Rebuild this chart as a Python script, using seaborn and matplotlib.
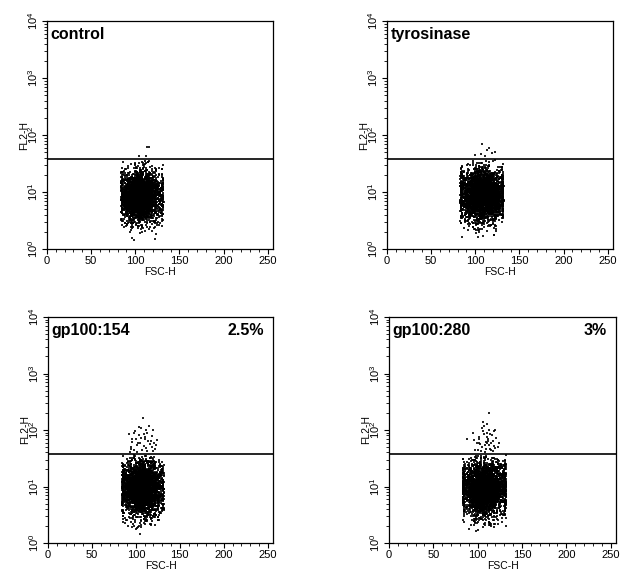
import numpy as np
import pandas as pd
import matplotlib
matplotlib.use("Agg")
import matplotlib.pyplot as plt
import seaborn as sns
from matplotlib.ticker import LogLocator, MultipleLocator, LogFormatterMathtext

# ---- data ----
panel_names = ["control", "tyrosinase", "gp100:154", "gp100:280"]
panel_pct = ["", "", "2.5%", "3%"]
gate_level = [38, 38, 37, 37]          # FL2-H gate (horizontal line)

# core population summary (read from the dense blob; dots themselves are unreadable)
core_n = [3200, 3200, 3200, 3300]
core_x_mean = [106, 108, 107, 108]
core_x_sd = [12, 13, 12, 13]
core_x_lo = [85, 84, 85, 84]
core_x_hi = [131, 131, 131, 131]
core_log_mean = [0.93, 0.95, 0.97, 0.97]
core_log_sd = [0.22, 0.23, 0.24, 0.23]

# events above the gate, read point by point (FSC-H, FL2-H)
hi_x_control = [113, 115, 104, 112]
hi_y_control = [62, 61, 42, 43]
hi_x_tyro = [108, 113, 119, 107, 111, 122, 100, 115]
hi_y_tyro = [70, 55, 48, 46, 42, 50, 44, 58]
hi_x_154 = [92, 96, 99, 102, 106, 110, 113, 117, 120, 123, 94, 98, 104, 108, 112, 115, 119,
            100, 105, 109, 114, 118, 122, 96, 101, 107, 111, 116, 93, 103, 110, 121, 98, 113,
            106, 118, 101, 109, 95, 124]
hi_y_154 = [85, 70, 95, 60, 110, 75, 90, 65, 100, 55, 50, 45, 80, 160, 48, 120, 42,
            70, 58, 52, 64, 78, 46, 62, 40, 44, 98, 56, 41, 115, 68, 60, 88, 43,
            72, 50, 54, 84, 47, 66]
hi_x_280 = [95, 99, 102, 105, 108, 111, 114, 117, 120, 123, 97, 101, 106, 110, 113, 116, 119,
            104, 107, 112, 115, 118, 100, 109, 111, 114, 103, 121, 96, 108, 113, 117, 110, 105,
            112, 118, 101, 107, 115, 109, 113, 88, 124, 106]
hi_y_280 = [90, 60, 75, 110, 55, 130, 85, 65, 100, 50, 45, 70, 95, 60, 200, 80, 48,
            42, 120, 70, 58, 52, 44, 62, 88, 46, 56, 72, 66, 40, 100, 43, 75, 50,
            64, 95, 58, 84, 45, 47, 54, 68, 60, 140]
hi_x = [hi_x_control, hi_x_tyro, hi_x_154, hi_x_280]
hi_y = [hi_y_control, hi_y_tyro, hi_y_154, hi_y_280]

x_ticks = [0, 50, 100, 150, 200, 250]

# ---- build per-panel event tables ----
rng = np.random.default_rng(7)
frames = []
for i, name in enumerate(panel_names):
    x = rng.normal(core_x_mean[i], core_x_sd[i], core_n[i])
    x = np.clip(x, core_x_lo[i], core_x_hi[i]) + rng.uniform(-1, 1, core_n[i])
    ly = rng.normal(core_log_mean[i], core_log_sd[i], core_n[i])
    y = 10 ** ly
    keep = y < gate_level[i] * 0.97
    df = pd.DataFrame({"FSC-H": np.concatenate([x[keep], hi_x[i]]),
                       "FL2-H": np.concatenate([y[keep], hi_y[i]]),
                       "panel": name})
    frames.append(df)

# ---- figure ----
sns.set_theme(style="white")
plt.rcParams["font.family"] = ["Liberation Sans", "DejaVu Sans"]
plt.rcParams["mathtext.fontset"] = "custom"
plt.rcParams["mathtext.rm"] = "Liberation Sans"
plt.rcParams["mathtext.it"] = "Liberation Sans"
for k in ["text.color", "axes.labelcolor", "xtick.color", "ytick.color", "axes.edgecolor"]:
    plt.rcParams[k] = "black"

fig = plt.figure(figsize=(6.27, 5.78), dpi=100)
W, H = 627, 578
boxes = [(47, 21, 273, 249), (387, 21, 613, 249), (48, 317, 273, 543), (389, 317, 616, 543)]

for i, (l, t, r, b) in enumerate(boxes):
    ax = fig.add_axes([l / W, 1 - b / H, (r - l) / W, (b - t) / H])
    sns.scatterplot(data=frames[i], x="FSC-H", y="FL2-H", ax=ax, color="black",
                    s=2.2, marker="s", linewidth=0, alpha=0.85, legend=False)
    ax.axhline(gate_level[i], color="black", lw=1.2)
    ax.set_yscale("log")
    ax.set_ylim(1, 1e4)
    ax.set_xlim(0, 256)
    ax.set_xticks(x_ticks)
    ax.xaxis.set_minor_locator(MultipleLocator(10))
    ax.yaxis.set_major_locator(LogLocator(base=10, numticks=10))
    ax.yaxis.set_minor_locator(LogLocator(base=10, subs=np.arange(2, 10), numticks=50))
    ax.yaxis.set_major_formatter(LogFormatterMathtext())
    ax.tick_params(axis="both", which="major", direction="out", length=3.5, width=0.8,
                   labelsize=8, pad=1.5, color="black", labelcolor="black",
                   left=True, bottom=True)
    ax.tick_params(axis="both", which="minor", direction="out", length=2, width=0.6,
                   color="black", left=True, bottom=True)
    for lab in ax.get_yticklabels():
        lab.set_rotation(90)
        lab.set_va("center")
    ax.set_xlabel("FSC-H", fontsize=7.5, labelpad=1, color="black")
    ax.set_ylabel("FL2-H", fontsize=7.5, labelpad=-2, color="black")
    for sp in ax.spines.values():
        sp.set_color("black")
        sp.set_linewidth(0.9)
        sp.set_visible(True)
    ax.text(0.015, 0.975, panel_names[i], transform=ax.transAxes, ha="left", va="top",
            fontsize=11.5, fontweight="bold", color="black")
    if panel_pct[i]:
        ax.text(0.96, 0.975, panel_pct[i], transform=ax.transAxes, ha="right", va="top",
                fontsize=11.5, fontweight="bold", color="black")

fig.savefig("out.png", dpi=100, facecolor="white")
